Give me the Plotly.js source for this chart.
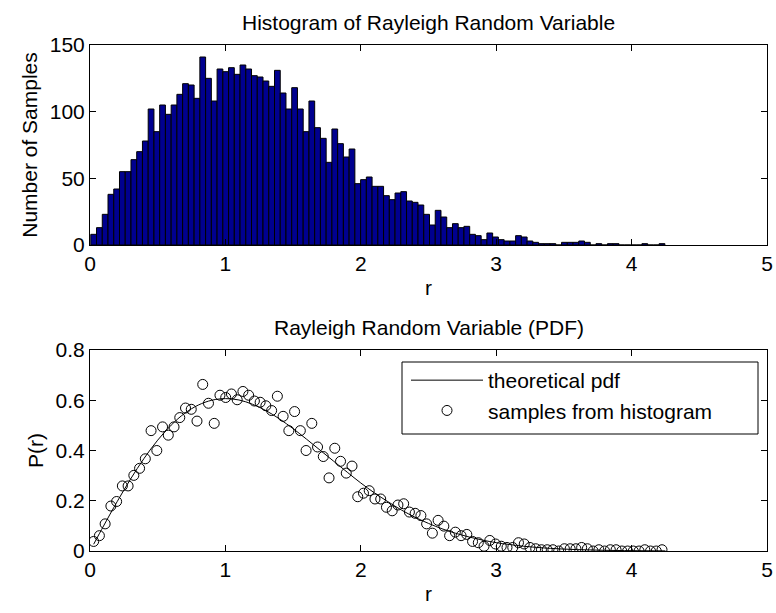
<!DOCTYPE html>
<html>
<head>
<meta charset="utf-8">
<script src="https://cdn.plot.ly/plotly-3.0.1.min.js"></script>
<style>html,body{margin:0;padding:0;background:#fff}#chart{width:776px;height:613px}</style>
</head>
<body>
<div id="chart"></div>
<script>
// Histogram: 100 bins, first bin center and bin width (in r units)
const binStart = 0.027;
const binWidth = 0.0424;
const histCounts = [
  8,13,23,38,42,55,55,64,70,78,
  102,85,105,98,105,113,121,120,110,141,
  125,108,132,130,133,128,135,132,127,126,
  123,119,131,114,102,118,102,85,108,88,
  80,62,87,76,66,72,46,49,51,44,
  44,37,34,39,40,33,32,30,23,15,
  26,21,13,16,13,14,8,7,4,9,
  6,4,3,3,7,6,3,2,1,1,
  1,0,2,2,2,3,2,0,1,0,
  1,1,0,0,0,0,1,0,0,1
];
// PDF samples from histogram (same bin centers)
const pdfSamples = [
  0.038,0.061,0.108,0.179,0.197,0.259,0.259,0.301,0.329,0.367,
  0.479,0.400,0.494,0.461,0.494,0.531,0.569,0.564,0.517,0.663,
  0.588,0.508,0.620,0.611,0.625,0.602,0.635,0.620,0.597,0.592,
  0.578,0.559,0.616,0.536,0.479,0.555,0.479,0.400,0.508,0.414,
  0.376,0.291,0.409,0.357,0.310,0.338,0.216,0.230,0.240,0.207,
  0.207,0.174,0.160,0.183,0.188,0.155,0.150,0.141,0.108,0.071,
  0.122,0.099,0.061,0.075,0.061,0.066,0.038,0.033,0.019,0.042,
  0.028,0.019,0.014,0.014,0.033,0.028,0.014,0.009,0.005,0.005,
  0.005,0,0.009,0.009,0.009,0.014,0.009,0,0.005,0,
  0.005,0.005,0,0,0,0,0.005,0,0,0.005
];
// Theoretical pdf curve
const rLine = [0.027,0.1,0.2,0.3,0.4,0.5,0.6,0.7,0.8,0.9,1.0,1.1,1.2,1.3,1.4,1.5,1.6,1.7,1.8,1.9,2.0,2.1,2.2,2.3,2.4,2.5,2.6,2.7,2.8,2.9,3.0,3.2,3.4,3.6,3.8,4.0,4.25];
const pLine = [0.027,0.0995,0.196,0.2867,0.3692,0.4412,0.5012,0.5483,0.5809,0.6001,0.6065,0.6011,0.5841,0.5587,0.5254,0.487,0.4448,0.4011,0.3572,0.3136,0.2707,0.2316,0.1964,0.1632,0.1345,0.1098,0.0884,0.0706,0.0556,0.0433,0.0333,0.0191,0.0105,0.0055,0.0028,0.0013,0.0005];
const xTicks = [0,1,2,3,4,5];
const yTicksTop = [0,50,100,150];
const yTicksBottom = [0,0.2,0.4,0.6,0.8];

const FONT = 'Liberation Sans, Arial, sans-serif';
const FS = 21;

const traces = [
  {type:'bar', x0:binStart, dx:binWidth, y:histCounts, xaxis:'x', yaxis:'y',
   marker:{color:'rgb(0,0,143)', line:{color:'#000', width:1}}, showlegend:false, hoverinfo:'skip'},
  {type:'scatter', mode:'lines', x:rLine, y:pLine, xaxis:'x2', yaxis:'y2',
   line:{color:'#000', width:1, shape:'spline'}, name:'theoretical pdf'},
  {type:'scatter', mode:'markers', x0:binStart, dx:binWidth, y:pdfSamples, xaxis:'x2', yaxis:'y2',
   marker:{symbol:'circle-open', size:10, color:'#000', line:{width:1, color:'#000'}}, name:'samples from histogram'}
];

const axCommon = {showline:true, linecolor:'#000', linewidth:1, mirror:'ticks', ticks:'inside', ticklen:6,
  tickcolor:'#000', showgrid:false, zeroline:false, tickfont:{family:FONT, size:FS, color:'#000'}, fixedrange:true};

const xd = [90/776, 767/776];
const layout = {
  width:776, height:613,
  margin:{l:0, r:0, t:0, b:0},
  paper_bgcolor:'#fff', plot_bgcolor:'#fff',
  font:{family:FONT, size:FS, color:'#000'},
  bargap:0,
  xaxis: Object.assign({}, axCommon, {domain:xd, range:[0,5], tickvals:xTicks, anchor:'y',
    title:{text:'r', font:{family:FONT, size:FS}, standoff:6}}),
  yaxis: Object.assign({}, axCommon, {domain:[1-245/613, 1-45/613], range:[0,150], tickvals:yTicksTop, anchor:'x',
    title:{text:'Number of Samples', font:{family:FONT, size:FS}, standoff:6}}),
  xaxis2: Object.assign({}, axCommon, {domain:xd, range:[0,5], tickvals:xTicks, anchor:'y2',
    title:{text:'r', font:{family:FONT, size:FS}, standoff:6}}),
  yaxis2: Object.assign({}, axCommon, {domain:[1-551/613, 1-350/613], range:[0,0.8], tickvals:yTicksBottom, anchor:'x2',
    title:{text:'P(r)', font:{family:FONT, size:FS}, standoff:6}}),
  legend:{x:406/776, xanchor:'left', y:1-360/613, yanchor:'top', bgcolor:'rgba(0,0,0,0)', borderwidth:0,
    itemwidth:72, font:{family:FONT, size:FS, color:'#000'}, tracegroupgap:0},
  shapes:[
    {type:'rect', xref:'paper', yref:'paper', x0:402/776, x1:758/776, y0:1-434/613, y1:1-362/613,
     line:{color:'#000', width:1}, fillcolor:'#fff', layer:'above'}
  ],
  annotations:[
    {text:'Histogram of Rayleigh Random Variable', xref:'paper', yref:'paper', x:(xd[0]+xd[1])/2, y:1-23/613,
     xanchor:'center', yanchor:'middle', showarrow:false, font:{family:FONT, size:FS, color:'#000'}},
    {text:'Rayleigh Random Variable (PDF)', xref:'paper', yref:'paper', x:(xd[0]+xd[1])/2, y:1-327/613,
     xanchor:'center', yanchor:'middle', showarrow:false, font:{family:FONT, size:FS, color:'#000'}}
  ]
};

Plotly.newPlot('chart', traces, layout, {staticPlot:true, displayModeBar:false});
</script>
</body>
</html>
